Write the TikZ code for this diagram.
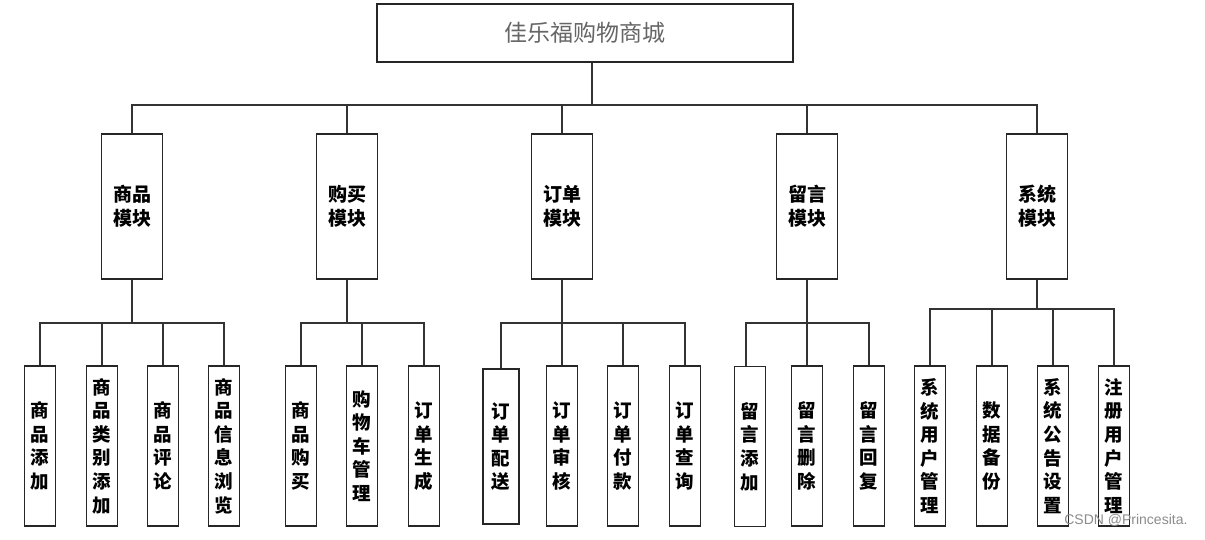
\documentclass[tikz,border=0pt]{standalone}
\usepackage{fontspec}
\newfontfamily\cjk{Noto Sans CJK SC}
\newfontfamily\wm{Liberation Sans}
\begin{document}
\begin{tikzpicture}[x=1pt,y=-1pt,
  box/.style={draw=black!85,line width=1.5pt,inner sep=0pt,align=center},
  topbox/.style={box,minimum width=416,minimum height=58,font=\cjk\fontsize{23}{26}\selectfont,text=black!60},
  modbox/.style={box,minimum width=61,minimum height=145,font=\cjk\bfseries\fontsize{19}{24}\selectfont},
  leafbox/.style={box,minimum width=31,minimum height=160,font=\cjk\bfseries\fontsize{18.5}{23.6}\selectfont},
  conn/.style={draw=black!80,line width=1.5pt}]
\path[use as bounding box,fill=white] (0,0) rectangle (1205,539);

\node[topbox] (top) at (585,33) {佳乐福购物商城};
\coordinate (tc) at ([xshift=7pt]top.south);

\node[modbox] (m1) at (132,206.5) {商品\\模块};
\node[modbox] (m2) at (347,206.5) {购买\\模块};
\node[modbox] (m3) at (562,206.5) {订单\\模块};
\node[modbox] (m4) at (807,206.5) {留言\\模块};
\node[modbox] (m5) at (1037,206.5) {系统\\模块};

\coordinate (b0) at (0,105);
\coordinate (b1) at (0,323);
\coordinate (b5) at (0,309);

\node[leafbox] (l11) at (40,446) {商\\品\\添\\加};
\node[leafbox] (l12) at (102,446) {商\\品\\类\\别\\添\\加};
\node[leafbox] (l13) at (163,446) {商\\品\\评\\论};
\node[leafbox] (l14) at (224,446) {商\\品\\信\\息\\浏\\览};

\node[leafbox] (l21) at (301,446) {商\\品\\购\\买};
\node[leafbox] (l22) at (362,446) {购\\物\\车\\管\\理};
\node[leafbox] (l23) at (424,446) {订\\单\\生\\成};

\node[leafbox,minimum width=36,minimum height=155,line width=1.8pt] (l31) at (501,446.5) {订\\单\\配\\送};
\node[leafbox] (l32) at (562,446) {订\\单\\审\\核};
\node[leafbox] (l33) at (623,446) {订\\单\\付\\款};
\node[leafbox] (l34) at (685,446) {订\\单\\查\\询};

\node[leafbox] (l41) at (750,446.5) {留\\言\\添\\加};
\node[leafbox] (l42) at (807,446) {留\\言\\删\\除};
\node[leafbox] (l43) at (869,446) {留\\言\\回\\复};

\node[leafbox] (l51) at (930,446) {系\\统\\用\\户\\管\\理};
\node[leafbox] (l52) at (992,446) {数\\据\\备\\份};
\node[leafbox] (l53) at (1053,446) {系\\统\\公\\告\\设\\置};
\node[leafbox] (l54) at (1114,446) {注\\册\\用\\户\\管\\理};

% top level connectors
\foreach \m in {m1,m2,m3,m4,m5}
  \draw[conn] (\m.north) -- (\m.north |- b0) -| (tc);

% group connectors
\foreach \l in {l11,l12,l13,l14}
  \draw[conn] (\l.north) -- (\l.north |- b1) -| (m1.south);
\foreach \l in {l21,l22,l23}
  \draw[conn] (\l.north) -- (\l.north |- b1) -| (m2.south);
\foreach \l in {l31,l32,l33,l34}
  \draw[conn] (\l.north) -- (\l.north |- b1) -| (m3.south);
\draw[conn] ([xshift=-4pt]l41.north) -- ([xshift=-4pt]l41.north |- b1) -| (m4.south);
\foreach \l in {l42,l43}
  \draw[conn] (\l.north) -- (\l.north |- b1) -| (m4.south);
\foreach \l in {l51,l52,l53,l54}
  \draw[conn] (\l.north) -- (\l.north |- b5) -| (m5.south);

\node[font=\wm\fontsize{14}{16}\selectfont,text=black!45,anchor=east] (wm) at (1191,520) {CSDN @Princesita.};
\end{tikzpicture}
\end{document}
